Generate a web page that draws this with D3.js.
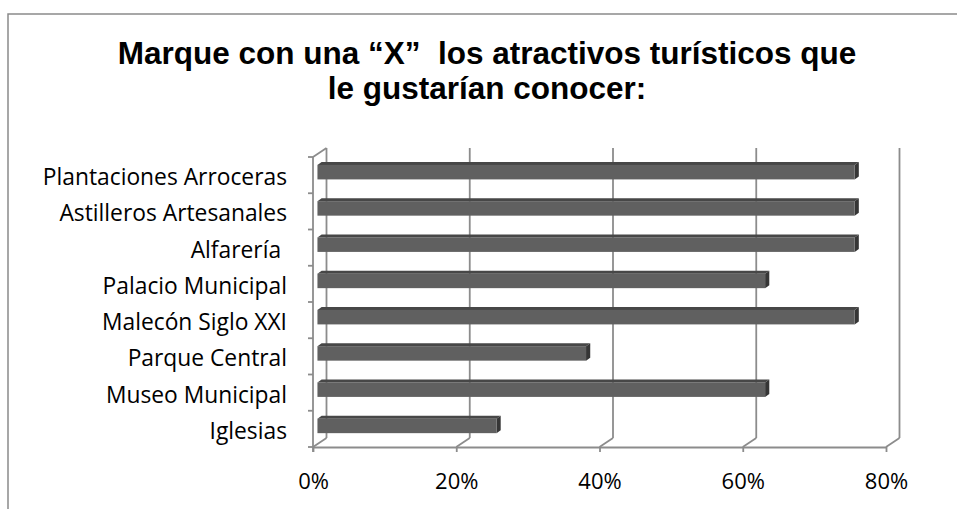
<!DOCTYPE html>
<html><head><meta charset="utf-8">
<script src="https://cdn.jsdelivr.net/npm/d3@7"></script>
<style>
html,body{margin:0;padding:0;background:#fff;}
svg{display:block;}
text{white-space:pre;}
</style>
</head><body>
<svg id="c" width="957" height="509"></svg>
<script>
const titleLines = ["Marque con una \u201cX\u201d  los atractivos tur\u00edsticos que", "le gustar\u00edan conocer:"];
const categories = ["Plantaciones Arroceras","Astilleros Artesanales","Alfarer\u00eda ","Palacio Municipal","Malec\u00f3n Siglo XXI","Parque Central","Museo Municipal","Iglesias"];
const values = [75,75,75,62.5,75,37.5,62.5,25];
const tickValues = [0,20,40,60,80];

const svg = d3.select("#c");
const gridCol = "#8c8c8c";

// frame
svg.append("path").attr("d","M8,509 L8,14 L957,14").attr("fill","none").attr("stroke","#8a8a8a").attr("stroke-width",1.5);

// title
svg.append("g").selectAll("text").data(titleLines).join("text")
  .attr("x",487).attr("y",(d,i)=>64+i*35)
  .attr("text-anchor","middle")
  .attr("font-family","'Liberation Sans', Arial, sans-serif")
  .attr("font-weight","bold").attr("font-size",31.5).attr("fill","#000")
  .text(d=>d);

// geometry
const x = d3.scaleLinear().domain([0,80]).range([313,886]);
const y = d3.scaleBand().domain(categories).range([157,447]).paddingInner(0).paddingOuter(0);
const DX = 13.5, DY = -9;

const g = svg.append("g");
// back wall gridlines
g.selectAll("line.grid").data(tickValues).join("line").attr("class","grid")
  .attr("x1",d=>x(d)+DX).attr("x2",d=>x(d)+DX)
  .attr("y1",y.range()[0]+DY).attr("y2",y.range()[1]+DY)
  .attr("stroke",gridCol).attr("stroke-width",1.8);
// floor diagonals
g.selectAll("line.diag").data(tickValues).join("line").attr("class","diag")
  .attr("x1",d=>x(d)+DX).attr("x2",d=>x(d))
  .attr("y1",y.range()[1]+DY).attr("y2",y.range()[1])
  .attr("stroke",gridCol).attr("stroke-width",1.8);
// top left diagonal
g.append("line").attr("x1",x(0)).attr("y1",y.range()[0]).attr("x2",x(0)+DX).attr("y2",y.range()[0]+DY)
  .attr("stroke",gridCol).attr("stroke-width",1.8);

// x axis (front floor edge)
const xAxis = d3.axisBottom(x).tickValues(tickValues).tickFormat(d=>d+"%").tickSize(5).tickSizeOuter(0);
const ax = svg.append("g").attr("transform",`translate(0,${y.range()[1]})`).call(xAxis);
ax.select(".domain").attr("stroke",gridCol).attr("stroke-width",1.8);
ax.selectAll(".tick line").attr("stroke",gridCol).attr("stroke-width",1.8);
ax.selectAll(".tick text").attr("font-family","'Open Sans', Lato, sans-serif").attr("font-size",22)
  .attr("fill","#000").attr("dy",0).attr("y",42);

// y axis (front left edge)
const yTicks = categories.map(c=>y(c)).concat([y.range()[1]]);
const yl = svg.append("g");
yl.append("line").attr("x1",x(0)).attr("x2",x(0)).attr("y1",y.range()[0]).attr("y2",y.range()[1]+5)
  .attr("stroke",gridCol).attr("stroke-width",1.8);
yl.selectAll("line.yt").data(yTicks).join("line").attr("class","yt")
  .attr("x1",x(0)-5).attr("x2",x(0)).attr("y1",d=>d).attr("y2",d=>d)
  .attr("stroke",gridCol).attr("stroke-width",1.8);
yl.selectAll("text").data(categories).join("text")
  .attr("x",287).attr("y",d=>y(d)+y.bandwidth()/2+10)
  .attr("text-anchor","end")
  .attr("font-family","'Open Sans', Lato, sans-serif").attr("font-size",22.8).attr("fill","#000")
  .text(d=>d);

// bars (3D)
const f0 = 0.33, f1 = 0.64;
const bh = y.bandwidth()*0.4;
const bars = svg.append("g");
categories.forEach((c,i)=>{
  const v = values[i];
  const cy = y(c)+y.bandwidth()/2;
  const xa = x(0)+DX*f0, xb = x(v)+DX*f0;
  const ya = cy - bh/2 + DY*f0, yb = cy + bh/2 + DY*f0;
  const ox = DX*(f1-f0), oy = DY*(f1-f0);
  bars.append("path").attr("d",`M${xa},${ya} L${xa+ox},${ya+oy} L${xb+ox},${ya+oy} L${xb},${ya} Z`).attr("fill","#474747");
  bars.append("path").attr("d",`M${xb},${ya} L${xb+ox},${ya+oy} L${xb+ox},${yb+oy} L${xb},${yb} Z`).attr("fill","#363636");
  bars.append("rect").attr("x",xa).attr("y",ya).attr("width",xb-xa).attr("height",yb-ya).attr("fill","#606060");
});
</script>
</body></html>
